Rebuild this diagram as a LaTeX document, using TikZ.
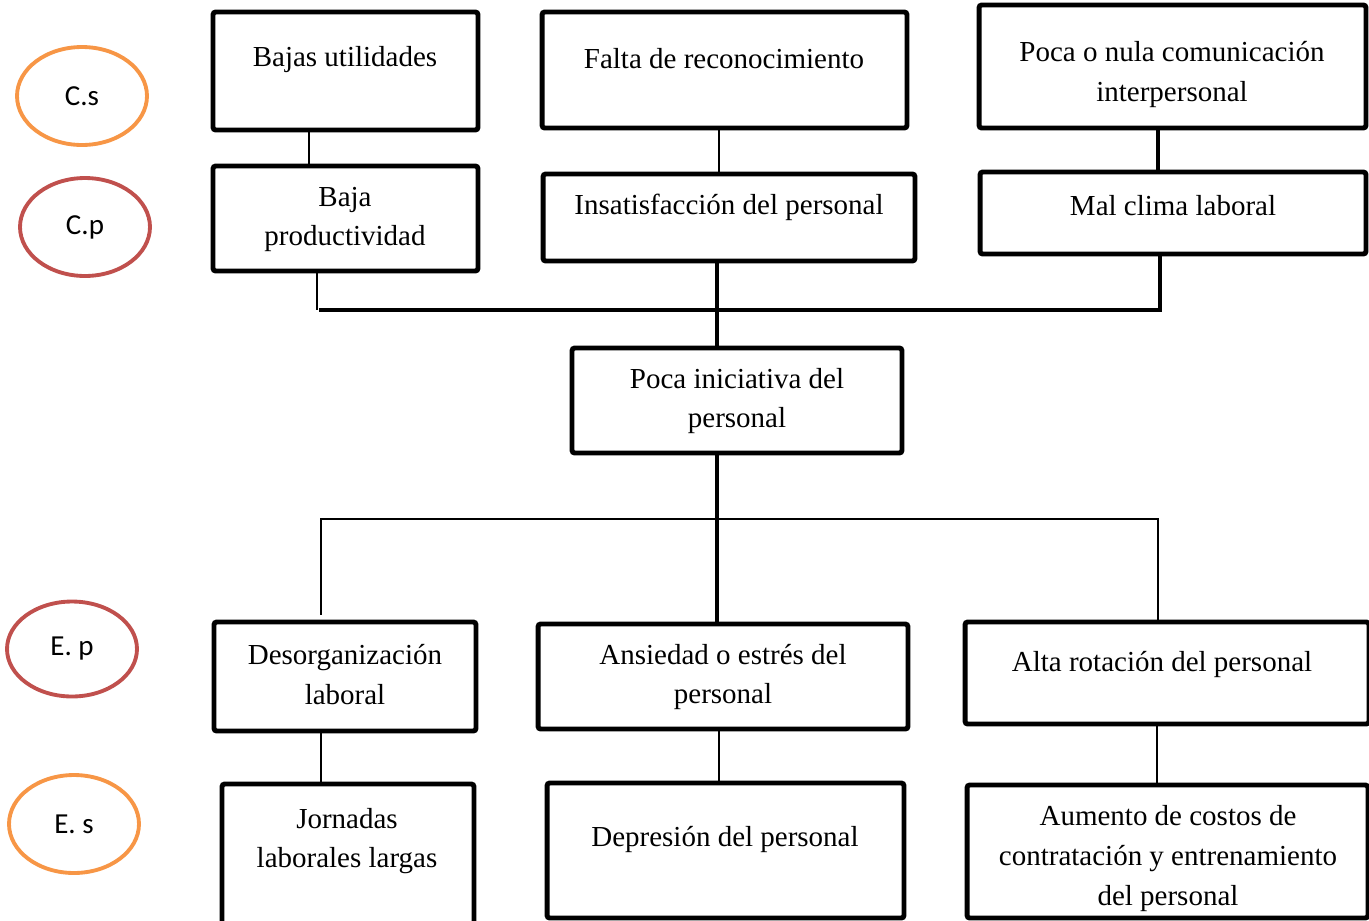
\documentclass[tikz,border=0pt]{standalone}
\usepackage{fontspec}
\setmainfont{Liberation Serif}
\newfontfamily\calibri{Carlito}
\usepackage{xcolor}
\usetikzlibrary{positioning,shapes.geometric,calc}

\definecolor{naranja}{HTML}{F79646}
\definecolor{rojo}{HTML}{C0504D}

\begin{document}
\begin{tikzpicture}[
  x=0.02cm, y=-0.02cm,
  caja/.style={draw, line width=2.8pt, rounded corners=1.5pt, inner sep=0pt},
  txt/.style={font=\fontsize{16.5}{22.5}\selectfont, align=center, inner sep=0pt,
              yshift=-0.05cm},
  nivel/.style={ellipse, draw, line width=2.2pt, minimum width=2.6cm,
                minimum height=1.96cm, font=\calibri\fontsize{16.5}{19}\selectfont},
  fino/.style={line width=0.85pt},
  grueso/.style={line width=2.8pt}
]
  \useasboundingbox (0,0) rectangle (1369,920);

  % Etiquetas de nivel
  \node[nivel, draw=naranja] (cs) at (82,96) {C.s};
  \node[nivel, draw=rojo] (cp) at (85,227) {C.p};
  \node[nivel, draw=rojo, minimum height=1.9cm] (ep) at (72,649) {E. p};
  \node[nivel, draw=naranja] (es) at (74,824) {E. s};

  % Causas secundarias
  \node[caja, minimum width=5.30cm, minimum height=2.36cm] (bu) at (345.5,71) {};
  \node[caja, minimum width=7.30cm, minimum height=2.32cm] (fr) at (724.5,70) {};
  \node[caja, minimum width=7.74cm, minimum height=2.46cm] (pc) at (1172.5,66.5) {};
  \node[txt] (bu-t) at (345,57) {Bajas utilidades};
  \node[txt] (fr-t) at (724,56) {Falta de reconocimiento};
  \node[txt] (pc-t) at (1172,72) {Poca o nula comunicación\\interpersonal};

  % Causas primarias
  \node[caja, minimum width=5.30cm, minimum height=2.10cm] (bp) at (345.5,218.5) {};
  \node[caja, minimum width=7.44cm, minimum height=1.74cm] (ip) at (729,217.5) {};
  \node[caja, minimum width=7.72cm, minimum height=1.64cm] (mc) at (1173,213) {};
  \node[txt] (bp-t) at (345,217) {Baja\\productividad};
  \node[txt] (ip-t) at (729,205) {Insatisfacción del personal};
  \node[txt] (mc-t) at (1173,203) {Mal clima laboral};

  % Problema central
  \node[caja, minimum width=6.60cm, minimum height=2.10cm] (pi) at (737,400.5) {};
  \node[txt] (pi-t) at (737,398.5) {Poca iniciativa del\\personal};

  % Efectos primarios
  \node[caja, minimum width=5.24cm, minimum height=2.18cm] (dl) at (345,676.5) {};
  \node[caja, minimum width=7.40cm, minimum height=2.10cm] (ae) at (723,676.5) {};
  \node[caja, minimum width=8.08cm, minimum height=2.04cm] (ar) at (1167,673) {};
  \node[txt] (dl-t) at (345,672) {Desorganización\\laboral};
  \node[txt] (ae-t) at (723,674.5) {Ansiedad o estrés del\\personal};
  \node[txt] (ar-t) at (1162,662) {Alta rotación del personal};

  % Efectos secundarios
  \node[caja, minimum width=5.04cm, minimum height=3.02cm] (jl) at (348,859.5) {};
  \node[caja, minimum width=7.14cm, minimum height=2.70cm] (dp) at (725.5,850.5) {};
  \node[caja, minimum width=8.02cm, minimum height=2.66cm] (ac) at (1167.5,851.5) {};
  \node[txt] (jl-t) at (347,838.5) {Jornadas\\laborales largas};
  \node[txt] (dp-t) at (725,837) {Depresión del personal};
  \node[txt] (ac-t) at (1168,856) {Aumento de costos de\\contratación y entrenamiento\\del personal};

  % Uniones de causas
  \coordinate (cruce) at (717,310);
  \coordinate (reparto) at (717,519);
  \draw[fino] ([xshift=-0.73cm]bu.south) -- ([xshift=-0.73cm]bu.south |- bp.north);
  \draw[fino] ([xshift=-0.11cm]fr.south) -- ([xshift=-0.11cm]fr.south |- ip.north);
  \draw[grueso] ([xshift=-0.29cm]pc.south) -- ([xshift=-0.29cm]pc.south |- mc.north);
  \draw[fino] ([xshift=-0.57cm]bp.south) -- ([xshift=-0.57cm]bp.south |- cruce);
  \draw[grueso] ([xshift=-0.26cm]mc.south) |- ([xshift=-0.53cm]bp.south |- cruce);
  \draw[grueso] ([xshift=-0.24cm]ip.south) -- ([xshift=-0.24cm]ip.south |- pi.north);

  % Uniones de efectos
  \draw[grueso] ([xshift=-0.40cm]pi.south) -- ([xshift=-0.40cm]pi.south |- ae.north);
  \draw[fino] ([xshift=-0.48cm,yshift=0.1cm]dl.north) |- (reparto)
    -| ([xshift=-0.18cm]ar.north);
  \draw[fino] ([xshift=-0.48cm]dl.south) -- ([xshift=-0.48cm]dl.south |- jl.north);
  \draw[fino] ([xshift=-0.08cm]ae.south) -- ([xshift=-0.08cm]ae.south |- dp.north);
  \draw[fino] ([xshift=-0.20cm]ar.south) -- ([xshift=-0.20cm]ar.south |- ac.north);
\end{tikzpicture}
\end{document}
